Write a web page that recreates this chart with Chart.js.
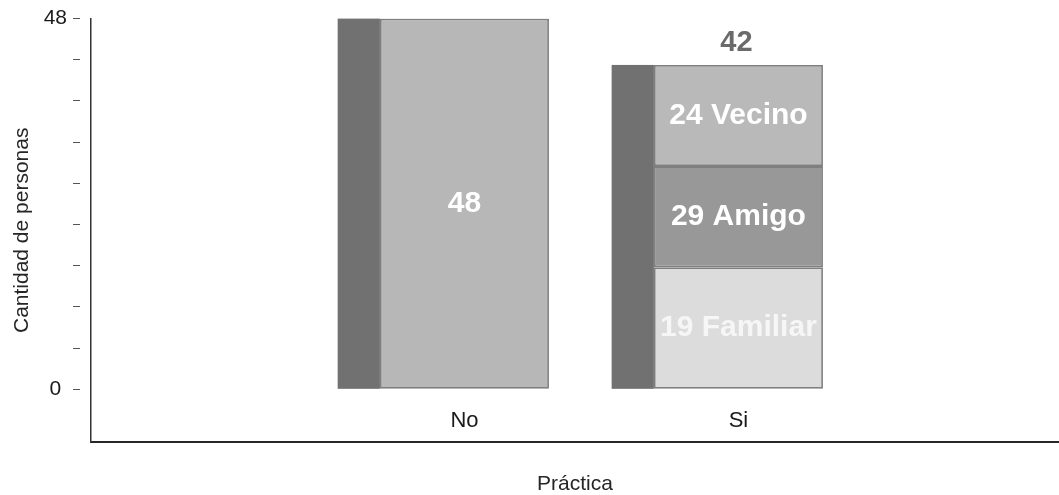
<!DOCTYPE html>
<html>
<head>
<meta charset="utf-8">
<script src="https://cdn.jsdelivr.net/npm/chart.js@4.4.1/dist/chart.umd.min.js"></script>
<style>
  html, body { margin: 0; padding: 0; background: #fff; }
</style>
</head>
<body>
<canvas id="chart" width="1059" height="495"></canvas>
<script>
// data
const categories = ['No', 'Si'];
const noValues = [48, null];
const familiarValues = [null, 15.8];
const amigoValues = [null, 13.1];
const vecinoValues = [null, 13.1];

// texts written on the bars
const noLabels = ['48', ''];
const familiarLabels = ['', '19 Familiar'];
const amigoLabels = ['', '29 Amigo'];
const vecinoLabels = ['', '24 Vecino'];
const totalLabels = ['', '42'];

// y axis: only first and last tick carry a label
const yTickLabels = ['0', '', '', '', '', '', '', '', '', '48'];
const yTop = 48;

Chart.defaults.font.family = "'Liberation Sans', Arial, Helvetica, sans-serif";
Chart.defaults.color = '#1a1a1a';

const toPoints = arr => arr.map((v, i) => ({ x: i, y: v }));

const datasets = [
  { label: 'No', data: toPoints(noValues), texts: noLabels, backgroundColor: '#b7b7b7', textColor: '#ffffff' },
  { label: 'Familiar', data: toPoints(familiarValues), texts: familiarLabels, backgroundColor: '#dcdcdc', textColor: '#f6f6f6' },
  { label: 'Amigo', data: toPoints(amigoValues), texts: amigoLabels, backgroundColor: '#989898', textColor: '#ffffff' },
  { label: 'Vecino', data: toPoints(vecinoValues), texts: vecinoLabels, backgroundColor: '#b9b9b9', textColor: '#ffffff' }
].map(ds => Object.assign(ds, {
  borderColor: '#7f7f7f',
  borderWidth: 1.8,
  borderSkipped: false,
  categoryPercentage: 1,
  barPercentage: 0.617
}));

// bar geometry per category, taken from the drawn elements
function barBox(chart, i) {
  let top = Infinity, bottom = -Infinity, x = null, width = 0;
  chart.data.datasets.forEach((ds, d) => {
    if (ds.data[i].y == null) return;
    const el = chart.getDatasetMeta(d).data[i];
    top = Math.min(top, el.y, el.base);
    bottom = Math.max(bottom, el.y, el.base);
    x = el.x;
    width = el.width;
  });
  return x === null ? null : { top, bottom, x, width };
}

// dark band on the left side of each bar
const sideStrip = {
  id: 'sideStrip',
  beforeDatasetsDraw(chart) {
    const ctx = chart.ctx;
    categories.forEach((c, i) => {
      const b = barBox(chart, i);
      if (!b) return;
      const w = b.width * 0.25;
      ctx.save();
      ctx.fillStyle = '#717171';
      ctx.fillRect(b.x - b.width / 2 - w, b.top, w, b.bottom - b.top);
      ctx.restore();
    });
  }
};

const barTexts = {
  id: 'barTexts',
  afterDatasetsDraw(chart) {
    const ctx = chart.ctx;
    ctx.save();
    ctx.textAlign = 'center';
    ctx.textBaseline = 'middle';
    ctx.font = "bold 30px 'Liberation Sans', Arial, sans-serif";
    chart.data.datasets.forEach((ds, d) => {
      chart.getDatasetMeta(d).data.forEach((el, i) => {
        const t = ds.texts[i];
        if (!t) return;
        ctx.fillStyle = ds.textColor;
        ctx.fillText(t, el.x, (el.y + el.base) / 2);
      });
    });
    ctx.font = "bold 29px 'Liberation Sans', Arial, sans-serif";
    ctx.fillStyle = '#6b6b6b';
    categories.forEach((c, i) => {
      const b = barBox(chart, i);
      if (!b || !totalLabels[i]) return;
      ctx.fillText(totalLabels[i], b.x - 2, b.top - 22);
    });
    ctx.restore();
  }
};

new Chart(document.getElementById('chart'), {
  type: 'bar',
  data: { datasets },
  options: {
    responsive: false,
    animation: false,
    devicePixelRatio: 1,
    layout: { padding: { top: 18, left: 0, right: 0, bottom: 0 } },
    plugins: {
      legend: { display: false },
      tooltip: { enabled: false }
    },
    scales: {
      x: {
        type: 'linear',
        stacked: true,
        offset: false,
        min: -1.363,
        max: 2.17,
        grid: { display: false, offset: false },
        border: { display: true, color: '#262626', width: 2 },
        afterBuildTicks: scale => { scale.ticks = categories.map((c, i) => ({ value: i })); },
        afterFit: scale => { scale.height = 53; },
        ticks: {
          mirror: true,
          padding: 8,
          autoSkip: false,
          maxRotation: 0,
          color: '#1a1a1a',
          font: { size: 22 },
          callback: v => categories[v] ?? ''
        },
        title: {
          display: true,
          text: 'Práctica',
          color: '#262626',
          font: { size: 21, lineHeight: 1 },
          padding: { top: 0, bottom: 0 }
        }
      },
      y: {
        stacked: true,
        min: -6.82,
        max: yTop,
        grid: {
          display: true,
          drawOnChartArea: false,
          drawTicks: true,
          tickLength: 18,
          tickColor: '#555555',
          tickWidth: 1,
          tickBorderDash: [7, 30]
        },
        border: { display: true, color: '#333333', width: 1.5 },
        afterBuildTicks: scale => {
          scale.ticks = yTickLabels.map((t, i) => ({ value: i * yTop / (yTickLabels.length - 1) }));
        },
        afterFit: scale => { scale.width = 91; },
        ticks: {
          autoSkip: false,
          crossAlign: 'center',
          padding: 6,
          color: '#1a1a1a',
          font: { size: 21 },
          callback: (v, i) => yTickLabels[i]
        },
        title: {
          display: true,
          text: 'Cantidad de personas',
          color: '#262626',
          font: { size: 21 },
          padding: { top: 10, bottom: 0 }
        }
      }
    }
  },
  plugins: [sideStrip, barTexts]
});
</script>
</body>
</html>
